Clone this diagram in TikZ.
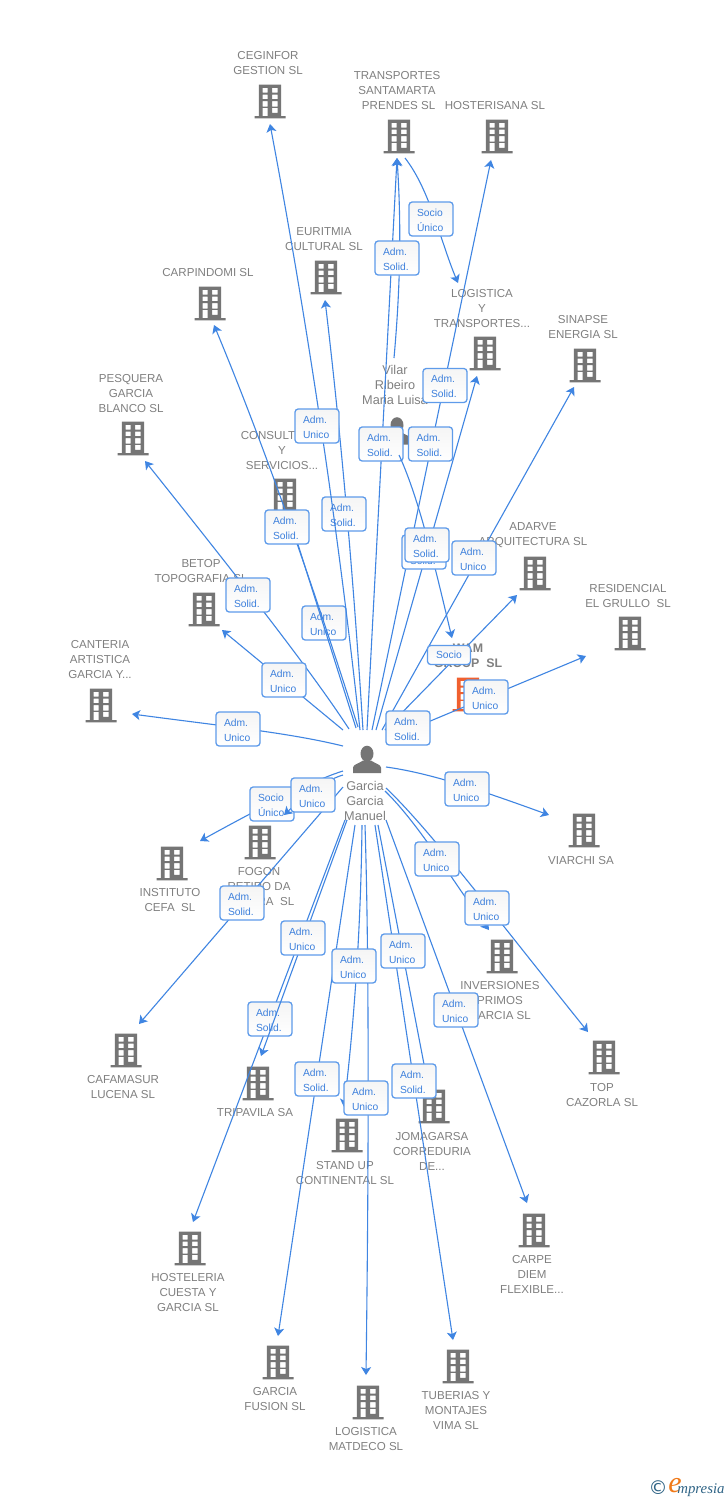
\documentclass[tikz,border=0pt]{standalone}
\usepackage{fontspec}
\usetikzlibrary{arrows.meta}
\setmainfont{Liberation Sans}
\newfontfamily\logofont{Liberation Serif}
\newfontfamily\symfont{DejaVu Sans}
\definecolor{linkblue}{HTML}{3F85E2}
\definecolor{boxblue}{HTML}{5E9BEA}
\definecolor{boxtext}{HTML}{3D80DC}
\definecolor{iconc}{HTML}{757575}
\definecolor{labc}{HTML}{808080}
\definecolor{focal}{HTML}{F0602F}
\definecolor{logoblue}{HTML}{2F6486}
\definecolor{logoorange}{HTML}{F07A1A}
\tikzset{
  link/.style={draw=linkblue,line width=.55pt,-{Stealth[length=4pt,width=5pt,inset=1pt]}},
  tag/.style={draw=boxblue,line width=.65pt,rounded corners=1.6pt,top color=black!4,bottom color=white,
    minimum height=17pt,text width=14pt,text height=4.7pt,text depth=7.5pt,inner xsep=4pt,inner ysep=0pt,align=left,text=boxtext,
    font=\fontsize{5.15}{7.5}\selectfont},
  tagone/.style={draw=boxblue,line width=.65pt,rounded corners=1.6pt,top color=black!4,bottom color=white,
    minimum height=9.5pt,minimum width=21.5pt,inner sep=0pt,align=center,text=boxtext,
    font=\fontsize{5.15}{7.5}\selectfont},
  lab/.style={inner sep=0pt,yshift=-.25pt,align=center,text=labc,font=\fontsize{5.78}{7.5}\selectfont},
  hublab/.style={inner sep=0pt,align=center,text=labc,font=\fontsize{6.35}{7.5}\selectfont},
  focallab/.style={inner sep=0pt,align=center,text=labc,font=\bfseries\fontsize{6.2}{7.3}\selectfont},
  bld/.pic={
    \path[pic actions,even odd rule]
      (-11.2,-16.5) rectangle (11.2,15) (-15.5,15) rectangle (15.5,17.3)
      (-7.3,-13.2) rectangle (-2.3,-8.5) (2.2,-13.2) rectangle (7.5,-8.5)
      (-7.3,-6.5) rectangle (-2.3,-1.8) (2.2,-6.5) rectangle (7.5,-1.8)
      (-7.3,.2) rectangle (-2.3,5.5) (2.2,.2) rectangle (7.5,5.5)
      (-7.3,6.8) rectangle (-2.3,15) (2.2,6.8) rectangle (7.5,11.8);
  },
  person/.pic={
    \fill[iconc] (0,-5.8) ellipse (6.5 and 8);
    \fill[iconc] (-14,13.5) -- (-14,8) .. controls (-14,5) and (-8,4) .. (-4,1) -- (4,1)
      .. controls (8,4) and (14,5) .. (14,8) -- (14,13.5) -- cycle;
  }
}
\begin{document}
\begin{tikzpicture}[x=.5pt,y=-.5pt]
\useasboundingbox (0,0) rectangle (728,1500);
\fill[white] (0,0) rectangle (728,1500);

% buildings
\pic[fill=iconc] at (270,101) {bld};
\pic[fill=iconc] at (399,136) {bld};
\pic[fill=iconc] at (497,136) {bld};
\pic[fill=iconc] at (326,277) {bld};
\pic[fill=iconc] at (210,303) {bld};
\pic[fill=iconc] at (485,353) {bld};
\pic[fill=iconc] at (585,365) {bld};
\pic[fill=iconc] at (133,438) {bld};
\pic[fill=iconc] at (285,495) {bld};
\pic[fill=iconc] at (204,609) {bld};
\pic[fill=iconc] at (535,573) {bld};
\pic[fill=iconc] at (630,633) {bld};
\pic[fill=iconc] at (101,705) {bld};
\pic[fill=focal] at (468,694) {bld};
\pic[fill=iconc] at (584,830) {bld};
\pic[fill=iconc] at (260,842) {bld};
\pic[fill=iconc] at (172,863) {bld};
\pic[fill=iconc] at (502,956) {bld};
\pic[fill=iconc] at (126,1050) {bld};
\pic[fill=iconc] at (258,1083) {bld};
\pic[fill=iconc] at (604,1057) {bld};
\pic[fill=iconc] at (434,1106) {bld};
\pic[fill=iconc] at (347,1135) {bld};
\pic[fill=iconc] at (534,1230) {bld};
\pic[fill=iconc] at (190,1248) {bld};
\pic[fill=iconc] at (278,1362) {bld};
\pic[fill=iconc] at (368,1402) {bld};
\pic[fill=iconc] at (458,1366) {bld};
\pic at (367,759.5) {person};
\pic at (397,431) {person};

% company and person labels
\node[lab] (nCeginfor) at (268,63) {CEGINFOR\\GESTION SL};
\node[lab] (nSantamarta) at (397,90) {TRANSPORTES\\SANTAMARTA\\~PRENDES SL};
\node[lab] (nHosterisana) at (495,105) {HOSTERISANA SL};
\node[lab] (nEuritmia) at (324,239) {EURITMIA\\CULTURAL SL};
\node[lab] (nCarpindomi) at (208,272) {CARPINDOMI SL};
\node[lab] (nLogistica) at (482,308) {LOGISTICA\\Y\\TRANSPORTES...};
\node[lab] (nSinapse) at (583,327) {SINAPSE\\ENERGIA SL};
\node[lab] (nPesquera) at (131,393) {PESQUERA\\GARCIA\\BLANCO SL};
\node[hublab] (nVilar) at (395,385) {Vilar\\Ribeiro\\Maria Luisa};
\node[lab] (nConsult) at (282,450) {CONSULTORIA\\Y\\SERVICIOS...};
\node[lab] (nBetop) at (201,571) {BETOP\\TOPOGRAFIA SL};
\node[lab] (nAdarve) at (533,535) {ADARVE\\ARQUITECTURA SL};
\node[lab] (nResidencial) at (628,596) {RESIDENCIAL\\EL GRULLO~ SL};
\node[focallab] (nWam) at (468,655.5) {WAM\\GROUP~ SL};
\node[lab] (nCanteria) at (100,659) {CANTERIA\\ARTISTICA\\GARCIA Y...};
\node[lab] (nViarchi) at (581,860) {VIARCHI SA};
\node[lab] (nFogon) at (259,886) {FOGON\\RETIRO DA\\\hspace*{5pt}SERRA~~SL};
\node[lab] (nInstituto) at (170,900) {INSTITUTO\\CEFA~ SL};
\node[lab] (nInversiones) at (500,1000) {INVERSIONES\\PRIMOS\\GARCIA SL};
\node[lab] (nCafamasur) at (123,1087) {CAFAMASUR\\LUCENA SL};
\node[lab] (nTripavila) at (255,1112) {TRIPAVILA SA};
\node[lab] (nCazorla) at (602,1095) {TOP\\CAZORLA SL};
\node[lab] (nJomagarsa) at (432,1151) {JOMAGARSA\\CORREDURIA\\DE...};
\node[lab] (nStandup) at (345,1173) {STAND UP\\CONTINENTAL SL};
\node[lab] (nCarpe) at (532,1274) {CARPE\\DIEM\\FLEXIBLE...};
\node[lab] (nHosteleria) at (188,1292) {HOSTELERIA\\CUESTA Y\\GARCIA SL};
\node[lab] (nFusion) at (275,1399) {GARCIA\\FUSION SL};
\node[lab] (nMatdeco) at (366,1439) {LOGISTICA\\MATDECO SL};
\node[lab] (nTuberias) at (456,1410) {TUBERIAS Y\\MONTAJES\\VIMA SL};
\node[hublab] (nHub) at (365,801) {Garcia\\Garcia\\Manuel};

% connector ends
\coordinate (h01) at (343,746);  \coordinate (t01) at (132,714);
\coordinate (h02) at (343,730);  \coordinate (t02) at (222,630);
\coordinate (h03) at (349,729);  \coordinate (t03) at (145,461);
\coordinate (h04) at (356,728);  \coordinate (t04) at (295,535);
\coordinate (h05) at (358,727);  \coordinate (t05) at (214,325);
\coordinate (h06) at (360,730);  \coordinate (t06) at (270,124);
\coordinate (h07) at (363,730);  \coordinate (t07) at (325,300);
\coordinate (h08) at (367,730);  \coordinate (t08) at (397,158);
\coordinate (h09) at (372,730);  \coordinate (t09) at (491,160);
\coordinate (h10) at (376,730);  \coordinate (t10) at (477,376);
\coordinate (h11) at (382,730);  \coordinate (t11) at (574,387);
\coordinate (h12) at (385,730);  \coordinate (t12) at (517,595);
\coordinate (h13) at (392,737);  \coordinate (t13) at (586,656);
\coordinate (h14) at (386,767);  \coordinate (t14) at (549,815);
\coordinate (h15) at (386,788);  \coordinate (t15) at (588,1032);
\coordinate (h16) at (385,791);  \coordinate (t16) at (489,930);
\coordinate (h17) at (386,820);  \coordinate (t17) at (527,1203);
\coordinate (h18) at (378,825);  \coordinate (t18) at (428,1085);
\coordinate (h19) at (375,825);  \coordinate (t19) at (453,1340);
\coordinate (h20) at (365,825);  \coordinate (t20) at (366,1375);
\coordinate (h21) at (362,825);  \coordinate (t21) at (344,1107);
\coordinate (h22) at (355,825);  \coordinate (t22) at (278,1336);
\coordinate (h23) at (345,820);  \coordinate (t23) at (193,1222);
\coordinate (h24) at (347,820);  \coordinate (t24) at (261,1056);
\coordinate (h25) at (343,787);  \coordinate (t25) at (139,1024);
\coordinate (h26) at (343,771);  \coordinate (t26) at (200,841);
\coordinate (h27) at (343,775);  \coordinate (t27) at (284,815);
\coordinate (v1) at (394,358);
\coordinate (v2) at (399,455);   \coordinate (t28) at (452,638);
\coordinate (s1) at (405,158);   \coordinate (t29) at (458,283);

% connectors under every tag
\draw[link] (h01) .. controls (290,733) and (230,727) .. (t01);
\draw[link] (h02) -- (t02);
\draw[link] (h03) .. controls (312,672) and (240,580) .. (t03);
\draw[link] (h07) .. controls (354,587) and (342,443) .. (t07);
\draw[link] (h08) -- (t08);
\draw[link] (v1) .. controls (401,280) and (401,220) .. (t08);
\draw[link] (s1) .. controls (430,190) and (440,240) .. (t29);
\draw[link] (h09) -- (t09);
\draw[link] (h10) -- (t10);
\draw[link] (h11) -- (t11);
\draw[link] (h12) -- (t12);
\draw[link] (h13) -- (t13);
\draw[link] (h14) .. controls (430,773) and (480,790) .. (t14);
\draw[link] (h15) .. controls (430,830) and (490,910) .. (t15);
\draw[link] (h16) .. controls (420,825) and (455,885) .. (t16);
\draw[link] (h17) -- (t17);
\draw[link] (h18) -- (t18);
\draw[link] (h19) -- (t19);
\draw[link] (h20) .. controls (369,950) and (369,1150) .. (t20);
\draw[link] (h21) .. controls (361,920) and (355,1015) .. (t21);
\draw[link] (h22) -- (t22);
\draw[link] (h23) -- (t23);
\draw[link] (h25) -- (t25);
\draw[link] (h26) .. controls (320,778) and (280,797) .. (t26);

% tags that some connectors run over
\node[tag] (l01) at (344,514) {Adm.\\Solid.};
\node[tag] (l02) at (324,623) {Adm.\\Unico};
\node[tag] (l03) at (381,444) {Adm.\\Solid.};
\node[tag] (l04) at (270,1019) {Adm.\\Solid.};
\node[tag] (l05) at (272,804) {Socio\\Único};

\draw[link] (h04) -- (t04);
\draw[link] (h05) .. controls (316,595) and (268,455) .. (t05);
\draw[link] (h06) .. controls (338,528) and (308,326) .. (t06);
\draw[link] (v2) .. controls (420,500) and (438,580) .. (t28);
\draw[link] (h24) -- (t24);
\draw[link] (h27) .. controls (325,780) and (300,800) .. (t27);

% remaining tags
\node[tag] (l06) at (431,219) {Socio\\Único};
\node[tag] (l07) at (397,258) {Adm.\\Solid.};
\node[tag] (l08) at (445,385.5) {Adm.\\Solid.};
\node[tag] (l09) at (430.5,444) {Adm.\\Solid.};
\node[tag] (l10) at (317,426) {Adm.\\Unico};
\node[tag] (l11) at (287,527) {Adm.\\Solid.};
\node[tag] (l12) at (424,552) {Adm.\\Solid.};
\node[tag] (l13) at (427,545) {Adm.\\Solid.};
\node[tag] (l14) at (474,558) {Adm.\\Unico};
\node[tag] (l15) at (248,595) {Adm.\\Solid.};
\node[tagone] (l16) at (449,655) {Socio};
\node[tag] (l17) at (284,680) {Adm.\\Unico};
\node[tag] (l18) at (486,697) {Adm.\\Unico};
\node[tag] (l19) at (408,728) {Adm.\\Solid.};
\node[tag] (l20) at (238,729) {Adm.\\Unico};
\node[tag] (l21) at (467,789) {Adm.\\Unico};
\node[tag] (l22) at (313,795) {Adm.\\Unico};
\node[tag] (l23) at (437,859) {Adm.\\Unico};
\node[tag] (l24) at (487,908) {Adm.\\Unico};
\node[tag] (l25) at (242,903) {Adm.\\Solid.};
\node[tag] (l26) at (303,938) {Adm.\\Unico};
\node[tag] (l27) at (403,951) {Adm.\\Unico};
\node[tag] (l28) at (354,966) {Adm.\\Unico};
\node[tag] (l29) at (456,1010) {Adm.\\Unico};
\node[tag] (l30) at (317,1079) {Adm.\\Solid.};
\node[tag] (l31) at (414,1081) {Adm.\\Solid.};
\node[tag] (l32) at (366,1098) {Adm.\\Unico};

% logo
\node[inner sep=0pt,text=logoblue,font=\symfont\fontsize{9.5}{10}\selectfont] (logoC) at (658,1488) {©};
\node[inner sep=0pt,text=logoorange,font=\logofont\itshape\fontsize{15}{15}\selectfont] (logoE) at (675,1486) {e};
\node[inner sep=0pt,anchor=base west,text=logoblue,font=\logofont\itshape\fontsize{7.4}{8}\selectfont] (logoT) at (677,1493) {mpresia};
\end{tikzpicture}
\end{document}
